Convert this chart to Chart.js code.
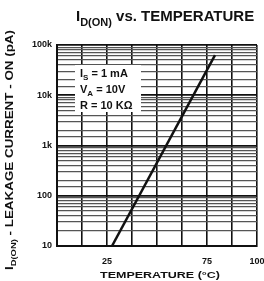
<!DOCTYPE html>
<html>
<head>
<meta charset="utf-8">
<script src="https://cdn.jsdelivr.net/npm/chart.js@4"></script>
<style>
  html, body { margin: 0; padding: 0; background: #fff; }
  #wrap { width: 264px; height: 281px; }
</style>
</head>
<body>
<div id="wrap"><canvas id="myChart" width="264" height="281"></canvas></div>
<script>
const temperature = [27.5, 79];
const leakage = [10, 63000];
const xTickLabels = [25, 75, 100];
const yTickLabels = { 10: '10', 100: '100', 1000: '1k', 10000: '10k', 100000: '100k' };
const conditions = [
  ['I', 'S', ' = 1 mA'],
  ['V', 'A', ' = 10V'],
  ['R', '', ' = 10 KΩ'],
];

const FONT = '"Liberation Sans", Arial, sans-serif';

// draws "main" + subscript + rest, starting at x
function drawSub(ctx, x, y, main, sub, rest, size) {
  ctx.font = 'bold ' + size + 'px ' + FONT;
  ctx.fillText(main, x, y);
  x += ctx.measureText(main).width;
  if (sub) {
    ctx.font = 'bold ' + Math.round(size * 0.7) + 'px ' + FONT;
    ctx.fillText(sub, x, y + size * 0.3);
    x += ctx.measureText(sub).width;
  }
  ctx.font = 'bold ' + size + 'px ' + FONT;
  ctx.fillText(rest, x, y);
  return x + ctx.measureText(rest).width;
}

function textWidth(ctx, main, sub, rest, size) {
  ctx.font = 'bold ' + size + 'px ' + FONT;
  let w = ctx.measureText(main).width + ctx.measureText(rest).width;
  ctx.font = 'bold ' + Math.round(size * 0.7) + 'px ' + FONT;
  return w + ctx.measureText(sub).width;
}

const labelsPlugin = {
  id: 'labels',
  afterDraw(chart) {
    const ctx = chart.ctx;
    const area = chart.chartArea;
    ctx.save();
    ctx.fillStyle = '#111';
    ctx.textBaseline = 'alphabetic';
    ctx.textAlign = 'left';

    // title
    drawSub(ctx, 76, 21, 'I', 'D(ON)', ' vs. TEMPERATURE', 15);

    // y axis title, rotated and stretched to the reference length
    ctx.save();
    const yw = textWidth(ctx, 'I', 'D(ON)', ' - LEAKAGE CURRENT - ON (pA)', 10);
    const span = 240;
    ctx.translate(13, 150 + span / 2);
    ctx.rotate(-Math.PI / 2);
    ctx.scale(span / yw, 1);
    drawSub(ctx, 0, 0, 'I', 'D(ON)', ' - LEAKAGE CURRENT - ON (pA)', 10);
    ctx.restore();

    // x axis title, stretched
    ctx.save();
    const xw = textWidth(ctx, 'TEMPERATURE (°C)', '', '', 9);
    ctx.translate(100, 278);
    ctx.scale(120 / xw, 1);
    drawSub(ctx, 0, 0, 'TEMPERATURE (°C)', '', '', 9);
    ctx.restore();

    // conditions box
    ctx.fillStyle = '#fff';
    ctx.fillRect(area.left + 18, area.top + 20, 66, 47);
    ctx.fillStyle = '#111';
    conditions.forEach((c, i) => {
      drawSub(ctx, area.left + 23, area.top + 32 + i * 16, c[0], c[1], c[2], 11);
    });
    ctx.restore();
  }
};

const ctx = document.getElementById('myChart').getContext('2d');

const myChart = new Chart(ctx, {
  type: 'scatter',
  data: {
    datasets: [
      {
        data: temperature.map((t, i) => ({ x: t, y: leakage[i] })),
        showLine: true,
        borderColor: '#111',
        borderWidth: 2.5,
        pointRadius: 0,
      },
    ],
  },
  options: {
    responsive: false,
    animation: false,
    layout: { padding: { top: 45, right: 7, left: 0, bottom: 0 } },
    scales: {
      x: {
        type: 'linear',
        min: 0,
        max: 100,
        afterBuildTicks(scale) {
          scale.ticks = [];
          for (let v = 0; v <= 100; v += 12.5) scale.ticks.push({ value: v });
        },
        afterFit(scale) {
          scale.height = 35;
          scale.paddingLeft = 0;
          scale.paddingRight = 0;
        },
        grid: { color: '#111', lineWidth: 1.6, drawTicks: false },
        border: { color: '#111', width: 2 },
        ticks: {
          autoSkip: false,
          maxRotation: 0,
          padding: 10,
          color: '#111',
          font: { family: FONT, size: 9, weight: 'bold' },
          callback: (v) => (xTickLabels.includes(v) ? String(v) : ''),
        },
      },
      y: {
        type: 'logarithmic',
        min: 10,
        max: 100000,
        afterFit(scale) {
          scale.width = 57;
          scale.paddingTop = 0;
          scale.paddingBottom = 0;
        },
        grid: {
          drawTicks: false,
          color: (c) => {
            const v = c.tick && c.tick.value;
            return v && yTickLabels[v] ? '#111' : '#555';
          },
          lineWidth: (c) => {
            const v = c.tick && c.tick.value;
            return v && yTickLabels[v] ? 1.8 : 1.3;
          },
        },
        border: { color: '#111', width: 2 },
        ticks: {
          autoSkip: false,
          padding: 5,
          color: '#111',
          font: { family: FONT, size: 9, weight: 'bold' },
          callback: (v) => yTickLabels[v] || '',
        },
      },
    },
    plugins: {
      legend: { display: false },
      tooltip: { enabled: false },
    },
  },
  plugins: [labelsPlugin],
});
</script>
</body>
</html>
